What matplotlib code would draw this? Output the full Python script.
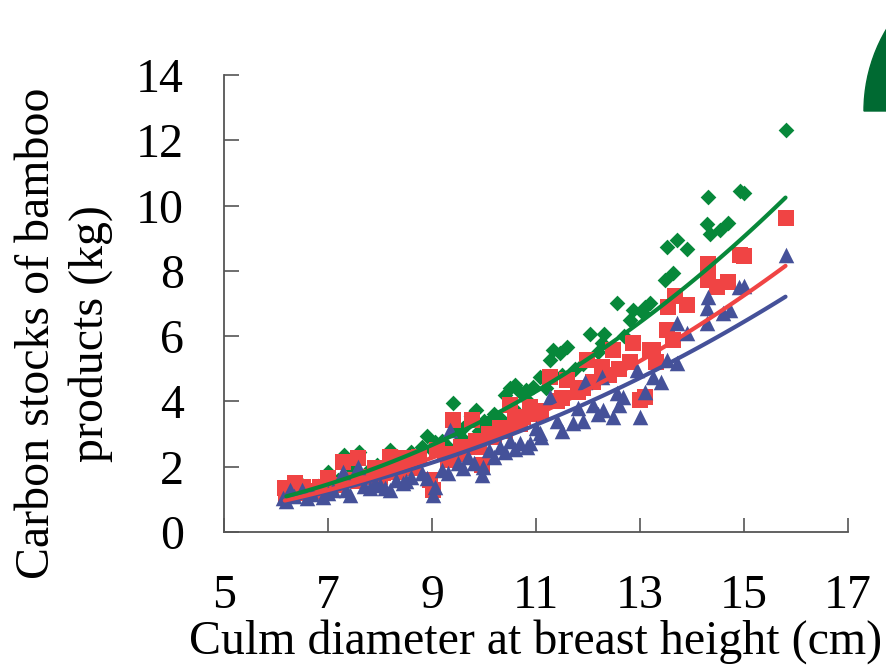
import matplotlib
matplotlib.use("Agg")
import matplotlib.pyplot as plt
import numpy as np
from matplotlib.patches import Wedge

# culm DBH (cm) vs carbon stock (kg)
green_x = [6.2, 6.35, 6.5, 6.6, 6.9, 7.0, 7.3, 7.45, 7.6, 7.75, 7.95, 8.1, 8.2, 8.35, 8.5, 8.6,
           8.8, 8.9, 9.05, 9.2, 9.4, 9.45, 9.6, 9.75, 9.85, 10.0, 10.2, 10.4, 10.5, 10.6, 10.7,
           10.8, 10.95, 11.07, 11.27, 11.33, 11.46, 11.6, 11.75, 11.9, 12.04, 12.27, 12.3, 12.56,
           12.8, 12.87, 13.06, 13.1, 13.19, 13.48, 13.52, 13.63, 13.71, 13.9, 14.29, 14.31, 14.35,
           14.54, 14.69, 14.92, 15.0, 15.8,
           6.3, 6.8, 7.2, 7.5, 8.0, 8.4, 8.7, 9.0, 9.3, 9.55, 9.9, 10.1, 10.3, 10.55, 10.85,
           11.2, 11.5, 12.2, 12.7]
green_y = [1.25, 1.5, 1.45, 1.35, 1.5, 1.85, 2.35, 1.95, 2.45, 1.85, 2.05, 2.0, 2.5, 2.3, 2.25, 2.45,
           2.6, 2.95, 2.75, 2.8, 3.95, 3.1, 3.2, 3.55, 3.75, 3.4, 3.6, 4.2, 4.4, 4.5, 4.3,
           4.34, 4.45, 4.74, 5.26, 5.57, 5.47, 5.66, 5.0, 5.15, 6.08, 5.78, 6.08, 7.03,
           6.48, 6.79, 6.7, 6.88, 7.0, 7.71, 8.72, 7.92, 8.93, 8.68, 9.45, 10.25, 9.14,
           9.24, 9.48, 10.46, 10.38, 12.32,
           1.2, 1.4, 1.6, 1.75, 1.85, 2.1, 2.2, 2.5, 2.6, 2.9, 3.1, 3.3, 3.5, 3.8, 4.0,
           4.4, 4.8, 5.5, 6.0]

red_x = [6.17, 6.2, 6.37, 6.52, 6.6, 6.85, 7.0, 7.29, 7.45, 7.58, 7.7, 7.9, 8.05, 8.19, 8.3, 8.44,
         8.6, 8.75, 8.96, 9.02, 9.1, 9.25, 9.4, 9.55, 9.77, 9.85, 9.96, 10.1, 10.3, 10.5, 10.6,
         10.75, 10.88, 11.0, 11.27, 11.4, 11.6, 11.8, 11.98, 12.1, 12.27, 12.48, 12.6, 12.87,
         13.0, 13.1, 13.19, 13.25, 13.52, 13.63, 13.54, 13.67, 13.9, 14.31, 14.31, 14.48, 14.69,
         14.92, 15.0, 15.8,
         6.3, 6.75, 7.15, 7.6, 8.0, 8.35, 8.65, 9.3, 9.6, 9.9, 10.2, 10.4, 10.7, 11.1, 11.5,
         11.9, 12.4, 12.8, 13.3]
red_y = [1.35, 1.15, 1.5, 1.38, 1.2, 1.38, 1.65, 2.14, 1.6, 2.26, 1.7, 1.96, 1.8, 2.29, 2.0, 2.26,
         2.1, 2.3, 1.59, 1.28, 2.5, 2.4, 3.42, 2.6, 3.42, 2.8, 2.05, 3.0, 3.2, 3.88, 3.4,
         3.52, 3.82, 3.6, 4.74, 4.0, 4.65, 4.3, 5.26, 4.6, 5.05, 5.57, 5.0, 5.78,
         4.04, 4.15, 5.57, 5.57, 6.18, 5.87, 6.89, 7.24, 6.94, 7.71, 8.22, 7.5, 7.65,
         8.47, 8.44, 9.63,
         1.1, 1.25, 1.45, 1.55, 1.7, 1.85, 1.95, 2.2, 2.4, 2.6, 2.9, 3.1, 3.3, 3.7, 4.1,
         4.4, 4.8, 5.2, 5.2]

blue_x = [6.13, 6.27, 6.35, 6.5, 6.7, 6.9, 7.1, 7.29, 7.42, 7.58, 7.7, 7.9, 8.1, 8.19, 8.3, 8.44,
          8.6, 8.8, 9.02, 9.06, 9.2, 9.35, 9.5, 9.7, 9.96, 9.98, 10.1, 10.3, 10.5, 10.69, 10.83,
          10.88, 11.0, 11.07, 11.27, 11.4, 11.71, 11.8, 11.94, 12.1, 12.27, 12.29, 12.48, 12.56,
          12.67, 12.94, 13.0, 13.25, 13.52, 13.71, 13.71, 13.9, 14.29, 14.29, 14.31, 14.6, 14.73,
          14.9, 15.0, 15.8,
          6.2, 6.6, 7.0, 7.35, 7.8, 8.0, 8.5, 8.9, 9.3, 9.6, 9.8, 10.2, 10.4, 10.6, 11.1,
          11.5, 11.9, 12.2, 12.6, 13.1, 13.4]
blue_y = [1.04, 1.28, 1.1, 1.28, 1.15, 1.07, 1.3, 1.83, 1.13, 1.99, 1.4, 1.5, 1.35, 1.28, 1.6, 1.5,
          1.7, 1.8, 1.13, 1.38, 1.9, 3.12, 2.1, 2.3, 1.74, 1.99, 2.5, 2.6, 2.8, 2.72, 2.6,
          2.72, 3.2, 3.03, 4.13, 3.4, 3.33, 3.8, 4.59, 3.9, 4.74, 3.73, 3.52, 4.25,
          4.13, 4.95, 3.52, 4.74, 5.26, 5.17, 6.39, 6.09, 6.39, 6.85, 7.19, 6.7, 6.79,
          7.5, 7.55, 8.5,
          0.95, 1.05, 1.2, 1.3, 1.35, 1.45, 1.55, 1.65, 1.8, 1.95, 2.1, 2.3, 2.45, 2.55, 2.9,
          3.1, 3.4, 3.6, 3.9, 4.3, 4.6]

# power fits y = a * x^b, coefficients
green_fit = (0.01387, 2.393)
red_fit = (0.0155, 2.27)
blue_fit = (0.01801, 2.171)

GREEN = '#07883a'
RED = '#f04444'
BLUE = '#455199'

plt.rcParams['font.family'] = ['Liberation Serif', 'DejaVu Serif']
FS = 34.5

fig = plt.figure(figsize=(8.86, 6.67), dpi=100)
ax = fig.add_axes([0.2528, 0.2024, 0.957 - 0.2528, 0.8876 - 0.2024])

ax.scatter(green_x, green_y, marker='D', s=64, color=GREEN, linewidths=0, zorder=2)
ax.scatter(red_x, red_y, marker='s', s=125, color=RED, linewidths=0, zorder=3)
ax.scatter(blue_x, blue_y, marker='^', s=125, color=BLUE, linewidths=0, zorder=4)

for xs, (a, b), c in [(blue_x, blue_fit, BLUE), (red_x, red_fit, RED), (green_x, green_fit, GREEN)]:
    xx = np.linspace(min(xs), max(xs), 100)
    ax.plot(xx, a * xx ** b, color=c, lw=3, solid_capstyle='round', zorder=5)

ax.set_xlim(5, 17)
ax.set_ylim(0, 14)
ax.set_xticks([5, 7, 9, 11, 13, 15, 17])
ax.set_yticks([0, 2, 4, 6, 8, 10, 12, 14])
ax.spines['top'].set_visible(False)
ax.spines['right'].set_visible(False)
for sp in ['left', 'bottom']:
    ax.spines[sp].set_color('#555555')
    ax.spines[sp].set_linewidth(1.3)
ax.tick_params(axis='x', direction='in', length=10, width=1.2, color='#555555', pad=30, labelsize=FS)
ax.tick_params(axis='y', direction='in', length=11, width=1.2, color='#555555', pad=29, labelsize=FS)

ax.set_xlabel('Culm diameter at breast height (cm)', fontsize=FS)
ax.xaxis.set_label_coords(0.5, -0.19)
ax.set_ylabel('Carbon stocks of bamboo\nproducts (kg)', fontsize=FS, linespacing=1.25)
ax.yaxis.set_label_coords(-0.178, 0.435)

# green logo edge in the corner
fig.add_artist(Wedge((10.24, 5.56), 1.6, 0, 180, color='#006a32',
                     transform=fig.dpi_scale_trans))

fig.savefig('out.png', dpi=100)
